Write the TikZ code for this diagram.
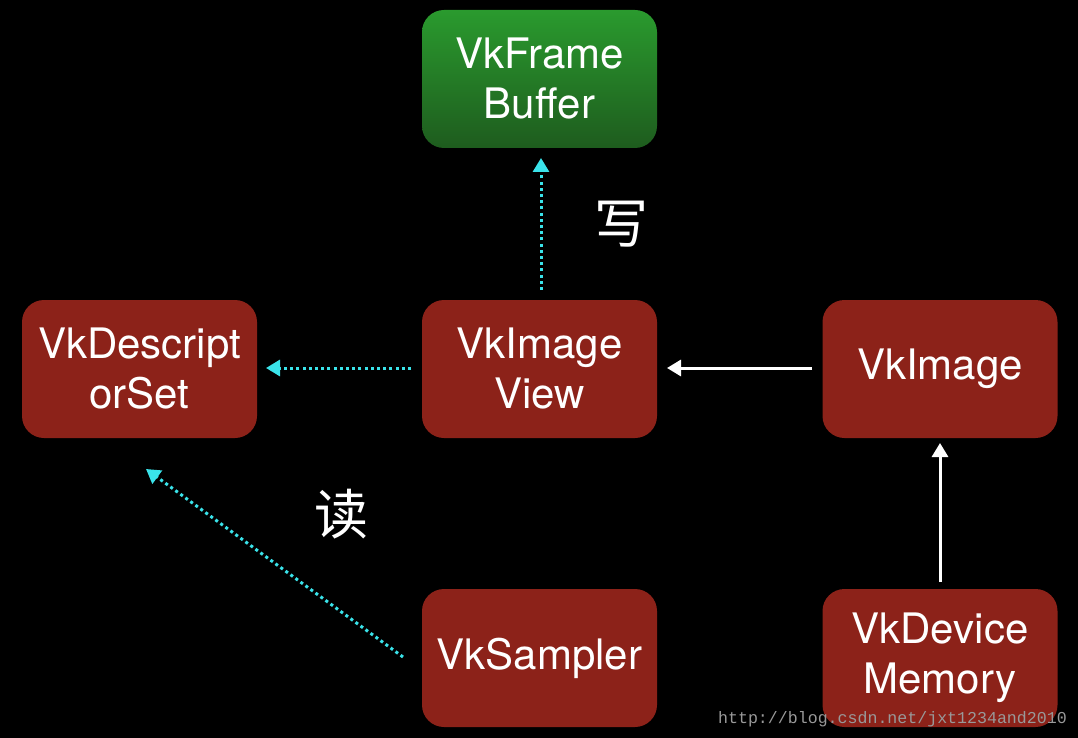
\documentclass[tikz,border=0pt]{standalone}
\usepackage{fontspec}
\setmainfont{TeX Gyre Heros}
\newfontfamily\cjk{Noto Sans CJK SC}
\newfontfamily\wmfont{Liberation Mono}
\usetikzlibrary{arrows.meta}
\definecolor{boxred}{HTML}{8C2219}
\definecolor{gtop}{HTML}{2A9A2E}
\definecolor{gbot}{HTML}{1E5C1E}
\definecolor{cyanline}{HTML}{3AE3EA}
\tikzset{
  box/.style={rounded corners=22pt, minimum width=235pt, minimum height=138pt,
    align=center, text=white, font=\fontsize{42}{50}\selectfont, inner sep=0pt},
  redbox/.style={box, fill=boxred},
  greenbox/.style={box, top color=gtop, bottom color=gbot},
  readarrow/.style={cyanline, line width=3pt, dash pattern=on 3pt off 3.2pt,
    -{Triangle[length=14pt,width=16pt]}},
  solidarrow/.style={white, line width=3pt, -{Triangle[length=14pt,width=16pt]}},
  cjklabel/.style={text=white, font=\cjk\fontsize{54}{54}\selectfont, inner sep=0pt}
}
\begin{document}
\begin{tikzpicture}[x=1pt,y=-1pt]
\fill[black] (0,0) rectangle (1078,738);
\useasboundingbox (0,0) rectangle (1078,738);
\node[greenbox] (fb) at (539.5,79) {VkFrame\\Buffer};
\node[redbox] (ds) at (139.5,369) {VkDescript\\orSet};
\node[redbox] (iv) at (539.5,369) {VkImage\\View};
\node[redbox] (img) at (940,369) {VkImage};
\node[redbox] (smp) at (539.5,658) {VkSampler};
\node[redbox] (mem) at (940,658) {VkDevice\\Memory};
\coordinate (ivtop) at (541,290);
\coordinate (fbbot) at (541,158);
\coordinate (ivleft) at (411,368);
\coordinate (dsright) at (266,368);
\coordinate (imgleft) at (812,368);
\coordinate (ivright) at (667,368);
\coordinate (memtop) at (940,582);
\coordinate (imgbot) at (940,443);
\coordinate (smpleft) at (403,657);
\coordinate (dsbot) at (146,469);
\draw[readarrow] (ivtop) -- (fbbot);
\draw[readarrow] (ivleft) -- (dsright);
\draw[solidarrow] (imgleft) -- (ivright);
\draw[solidarrow] (memtop) -- (imgbot);
\draw[readarrow] (smpleft) -- (dsbot);
\node[cjklabel] (w) at (621,224) {写};
\node[cjklabel] (r) at (341,514) {读};
\node[text=gray!80, font=\wmfont\fontsize{16.6}{17}\selectfont, anchor=base east, inner sep=0pt] (wm) at (1067,723) {http://blog.csdn.net/jxt1234and2010};
\end{tikzpicture}
\end{document}
